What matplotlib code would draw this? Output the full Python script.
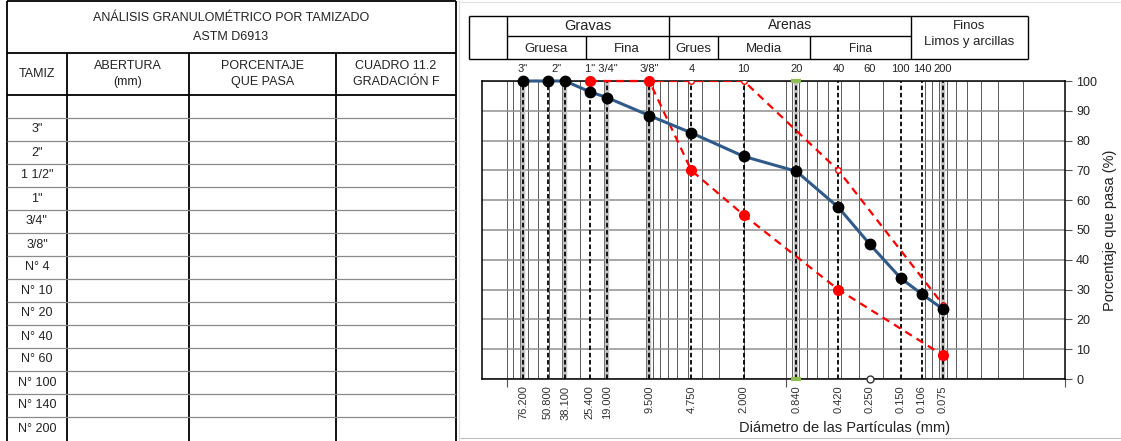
import numpy as np
import matplotlib
matplotlib.use("Agg")
import matplotlib.pyplot as plt
from matplotlib.ticker import FixedLocator, LogLocator, NullFormatter

plt.rcParams['font.family'] = ['Liberation Sans', 'DejaVu Sans']

# Tabla de tamices
tamices = ['3"', '2"', '1 1/2"', '1"', '3/4"', '3/8"', 'N° 4', 'N° 10', 'N° 20',
           'N° 40', 'N° 60', 'N° 100', 'N° 140', 'N° 200']
encabezados = ['TAMIZ', 'ABERTURA\n(mm)', 'PORCENTAJE\nQUE PASA', 'CUADRO 11.2\nGRADACIÓN F']

# Aberturas (mm)
abertura = [76.2, 50.8, 38.1, 25.4, 19.0, 9.5, 4.75, 2.0, 0.84, 0.42, 0.25, 0.15, 0.106, 0.075]
pasa = [100, 100, 100, 96.4, 94.4, 88.4, 82.6, 74.7, 69.7, 57.6, 45.2, 33.8, 28.5, 23.5]

# Gradacion F (limites)
lim_x = [25.4, 9.5, 4.75, 2.0, 0.42, 0.075]
lim_inf = [100, 100, 70, 55, 30, 8]
lim_sup = [100, 100, 100, 100, 70, 25]

# Lineas verticales de tamices
tamiz_lineas = [76.2, 50.8, 38.1, 25.4, 19.0, 9.5, 4.75, 2.0, 0.84, 0.42, 0.15, 0.106, 0.075]
tamiz_halo = [76.2, 38.1, 19.0, 9.5, 0.84, 0.075]

# Etiquetas superiores
top_lbl = ['3"', '2"', '1" 3/4"', '3/8"', '4', '10', '20', '40', '60', '100', '140', '200']
top_pos = [76.2, 44.0, 21.0, 9.5, 4.75, 2.0, 0.84, 0.42, 0.25, 0.15, 0.106, 0.075]

W, H = 1121, 441
fig = plt.figure(figsize=(W / 100, H / 100), dpi=100)

# ---- capa de dibujo en pixeles (tabla y encabezado) ----
bg = fig.add_axes([0, 0, 1, 1])
bg.set_xlim(0, W)
bg.set_ylim(H, 0)
bg.axis('off')

def hline(x0, x1, y, c='k', lw=1.0):
    bg.plot([x0, x1], [y, y], color=c, lw=lw, solid_capstyle='butt')

def vline(x, y0, y1, c='k', lw=1.0):
    bg.plot([x, x], [y0, y1], color=c, lw=lw, solid_capstyle='butt')

cols = [7, 67, 189, 336, 456]
row0, rh = 95, 23
nrows = len(tamices) + 1

# bordes y lineas de la tabla
hline(cols[0], cols[-1], 1, lw=1.3)
hline(cols[0], cols[-1], 53, lw=1.3)
hline(cols[0], cols[-1], row0, lw=1.3)
vline(cols[0], 1, H, lw=1.3)
vline(cols[-1], 1, H, lw=1.3)
for x in cols[1:-1]:
    vline(x, 53, H, lw=1.3)
for i in range(1, nrows):
    hline(cols[0], cols[-1], row0 + i * rh, c='#8a8a8a', lw=0.9)

bg.text(231, 18, 'ANÁLISIS GRANULOMÉTRICO POR TAMIZADO', ha='center', va='center',
        fontsize=9, color='#222')
bg.text(231, 37, 'ASTM D6913', ha='center', va='center', fontsize=9, color='#222')
for i, t in enumerate(encabezados):
    bg.text((cols[i] + cols[i + 1]) / 2, 74, t, ha='center', va='center', fontsize=9,
            linespacing=1.4, color='#222')
for i, t in enumerate(tamices):
    bg.text((cols[0] + cols[1]) / 2, row0 + (i + 1) * rh + rh / 2, t, ha='center', va='center',
            fontsize=9, color='#222')

# separadores grises de la imagen
vline(459, 0, H, c='#d9d9d9', lw=0.8)
hline(460, W, 2, c='#dddddd', lw=0.8)
hline(460, W, 438, c='#bdbdbd', lw=0.8)

# encabezado de clasificacion
y0, ym, y1 = 16, 36, 59
hline(469, 1028, y0)
hline(469, 1028, y1)
hline(507, 911, ym)
vline(469, y0, y1)
vline(1028, y0, y1)
for x in [507, 669, 911]:
    vline(x, y0, y1)
for x in [586, 718, 810]:
    vline(x, ym, y1)

bg.text(588, 26, 'Gravas', ha='center', va='center', fontsize=10.5, color='#222')
bg.text(790, 25, 'Arenas', ha='center', va='center', fontsize=10, color='#222')
bg.text(969, 26, 'Finos', ha='center', va='center', fontsize=9.5, color='#222')
bg.text(969, 42, 'Limos y arcillas', ha='center', va='center', fontsize=9.5, color='#222')
for x, t in [(546, 'Gruesa'), (627, 'Fina'), (693, 'Grues'), (764, 'Media'), (860, 'Fina')]:
    bg.text(x, 49, t, ha='center', va='center', fontsize=9.5 if t != 'Fina' or x < 700 else 8.5,
            color='#222')

# ---- grafico granulometrico ----
ax = fig.add_axes([482 / W, 1 - 379 / H, (1065 - 482) / W, (379 - 81) / H])
ax.set_xscale('log')
ax.set_xlim(150, 0.01)
ax.set_ylim(0, 100)

ax.xaxis.set_major_locator(FixedLocator([100, 1, 0.01]))
ax.xaxis.set_minor_locator(LogLocator(base=10, subs=np.arange(1, 10), numticks=50))
ax.xaxis.set_major_formatter(NullFormatter())
ax.xaxis.set_minor_formatter(NullFormatter())
ax.tick_params(axis='x', which='major', length=6, width=0.8, color='#555', direction='out')
ax.tick_params(axis='x', which='minor', length=0)
ax.grid(True, axis='x', which='both', color='#5a5a5a', lw=0.7)

ax.yaxis.tick_right()
ax.yaxis.set_label_position('right')
ax.set_yticks(range(0, 101, 10))
ax.tick_params(axis='y', length=5, width=0.8, color='#555', labelsize=9, pad=3, labelcolor='#222')
ax.grid(True, axis='y', color='#8f8f8f', lw=1.1)
ax.set_axisbelow(True)
for s in ax.spines.values():
    s.set_color('black')
    s.set_linewidth(1.1)

ax.vlines(tamiz_halo, 0, 100, colors='#c4c4c4', lw=3.2, zorder=2)
ax.vlines(tamiz_lineas, 0, 100, colors='black', lw=1.3, linestyles=(0, (2.5, 1.5)), zorder=2.5)

ax.plot(lim_x, lim_sup, color='red', lw=1.6, ls=(0, (3.5, 2.5)), marker='o', ms=4,
        mfc='white', mec='red', mew=1, zorder=4)
ax.plot(lim_x, lim_inf, color='red', lw=1.6, ls=(0, (3.5, 2.5)), marker='o', ms=7,
        mfc='red', mec='red', zorder=4, clip_on=False)
ax.plot(abertura, pasa, color='#2f5a8a', lw=2.2, marker='o', ms=7.5, mfc='black', mec='black',
        zorder=5, clip_on=False)
ax.plot([0.25], [0], ls='none', marker='o', ms=5, mfc='white', mec='#333', zorder=6, clip_on=False)
ax.plot([0.84, 0.84], [100, 0], ls='none', marker='_', ms=7, mew=3, color='#8fbf50',
        zorder=3, clip_on=False)

for x, t in zip(top_pos, top_lbl):
    ax.text(x, 1.040, t, transform=ax.get_xaxis_transform(), ha='center', va='center',
            fontsize=8, color='#222')
for s in abertura:
    ax.text(s, -0.022, f'{s:.3f}', transform=ax.get_xaxis_transform(), rotation=90,
            ha='center', va='top', fontsize=8, color='#333')

ax.set_ylabel('Porcentaje que pasa (%)', fontsize=10.5, labelpad=4, color='#222')
fig.text(845 / W, 1 - 428 / H, 'Diámetro de las Partículas (mm)', ha='center', va='center',
         fontsize=10.5, color='#222')

fig.savefig('out.png', dpi=100)
